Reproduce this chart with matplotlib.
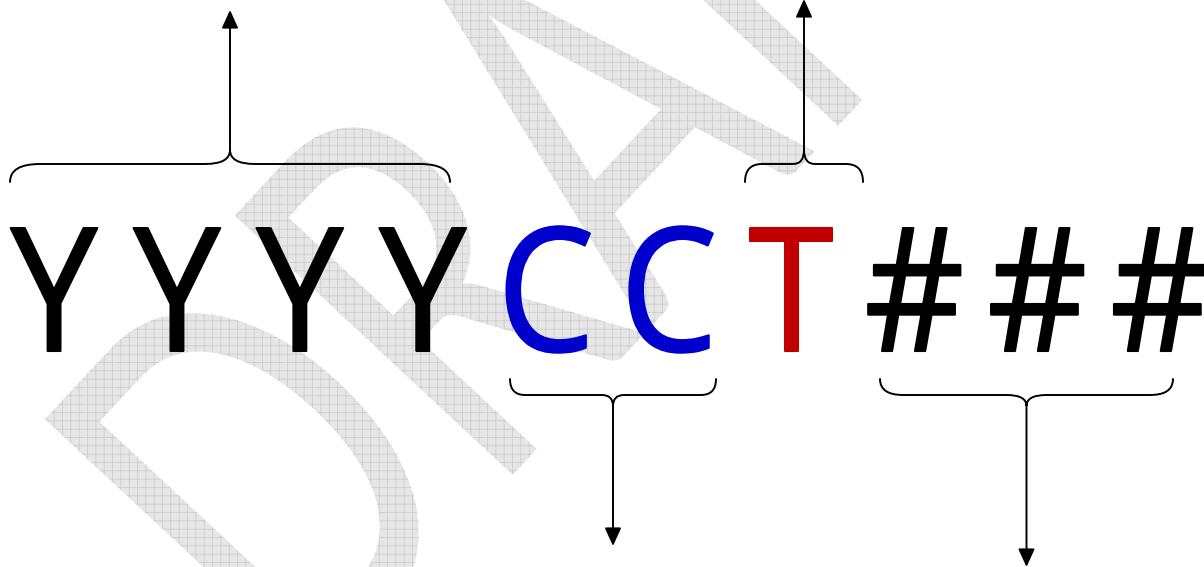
import numpy as np
import matplotlib.pyplot as plt
from matplotlib.path import Path
from matplotlib.patches import PathPatch
from matplotlib.transforms import Affine2D
import matplotlib.patheffects as pe

plt.rcParams['hatch.linewidth'] = 0.6

W, H = 1204, 567

# Huruf utama dan warnanya
chars = ['Y', 'Y', 'Y', 'Y', 'C', 'C', 'T', '#', '#', '#']
char_colors = ['black'] * 4 + ['#0000cc'] * 2 + ['#c00000'] + ['black'] * 3

# Kurung kurawal: batas kiri/kanan, sisi, ujung panah
brace_left = [10, 745, 510, 880]
brace_right = [450, 863, 716, 1173]
brace_side = ['top', 'top', 'bottom', 'bottom']
arrow_end = [10, -1, 546, 567]
brace_r_end = [30, 17, 15, 23]
brace_r_tip = [25, 11, 11, 20]

watermark = 'DRAFT'


class Squeeze(pe.AbstractPathEffect):
    """Menyempitkan huruf secara horizontal (seperti font condensed)."""
    def __init__(self, sx, center=True, lw=0, patch_kw=None):
        super().__init__()
        self.sx = sx
        self.center = center
        self.lw = lw
        self.patch_kw = patch_kw

    def draw_path(self, renderer, gc, tpath, affine, rgbFace=None):
        ext = tpath.get_extents()
        cx = (ext.x0 + ext.x1) / 2 if self.center else 0
        aff = Affine2D().translate(-cx, 0).scale(self.sx, 1).translate(cx, 0) + affine
        if self.patch_kw is None:
            kw = dict(facecolor=rgbFace, edgecolor=rgbFace, linewidth=self.lw,
                      joinstyle='round')
        else:
            kw = self.patch_kw
        patch = PathPatch(tpath, transform=aff, **kw)
        patch.set_clip_box(gc.get_clip_rectangle())
        patch.draw(renderer)


def brace_path(x0, x1, y_end, y_flat, y_tip, r_end, r_tip):
    xc = (x0 + x1) / 2
    verts = [(x0, y_end), (x0, y_flat), (x0 + r_end, y_flat),
             (xc - r_tip, y_flat), (xc, y_flat), (xc, y_tip),
             (xc, y_flat), (xc + r_tip, y_flat),
             (x1 - r_end, y_flat), (x1, y_flat), (x1, y_end)]
    codes = [Path.MOVETO, Path.CURVE3, Path.CURVE3, Path.LINETO,
             Path.CURVE3, Path.CURVE3, Path.CURVE3, Path.CURVE3,
             Path.LINETO, Path.CURVE3, Path.CURVE3]
    return Path(verts, codes), xc


fig = plt.figure(figsize=(W / 100, H / 100), dpi=100)
ax = fig.add_axes([0, 0, 1, 1])
ax.set_xlim(0, W)
ax.set_ylim(H, 0)
ax.axis('off')

# Watermark DRAFT (abu-abu dengan pola kisi)
ax.text(300, 703, watermark, rotation=47, rotation_mode='anchor',
        ha='left', va='baseline', fontsize=382, family=['Lato', 'DejaVu Sans'],
        zorder=0,
        path_effects=[Squeeze(0.69, center=False,
                              patch_kw=dict(facecolor='#e6e6e6', edgecolor='#cdcdcd',
                                            hatch='++', linewidth=0))])

# Huruf-huruf
x_start, step = 54, 122.9
for i, (c, col) in enumerate(zip(chars, char_colors)):
    ax.text(x_start + i * step, 351, c, color=col, ha='center', va='baseline',
            fontsize=124, family=['Open Sans', 'DejaVu Sans'], zorder=3,
            path_effects=[Squeeze(0.9, lw=1.5)])

# Kurung kurawal + panah
y_top = dict(top=(182, 164, 150), bottom=(379, 395, 406))
for x0, x1, side, yend, re_, rt in zip(brace_left, brace_right, brace_side,
                                        arrow_end, brace_r_end, brace_r_tip):
    y_e, y_f, y_t = y_top[side]
    path, xc = brace_path(x0, x1, y_e, y_f, y_t, re_, rt)
    ax.add_patch(PathPatch(path, facecolor='none', edgecolor='black', lw=1.4,
                           capstyle='round', zorder=4))
    ax.annotate('', xy=(xc, yend), xytext=(xc, y_t),
                arrowprops=dict(arrowstyle='-|>,head_length=1.1,head_width=0.5',
                                color='black', lw=1.4, shrinkA=0, shrinkB=0,
                                mutation_scale=10),
                annotation_clip=False, zorder=4)

fig.savefig('out.png', dpi=100)
